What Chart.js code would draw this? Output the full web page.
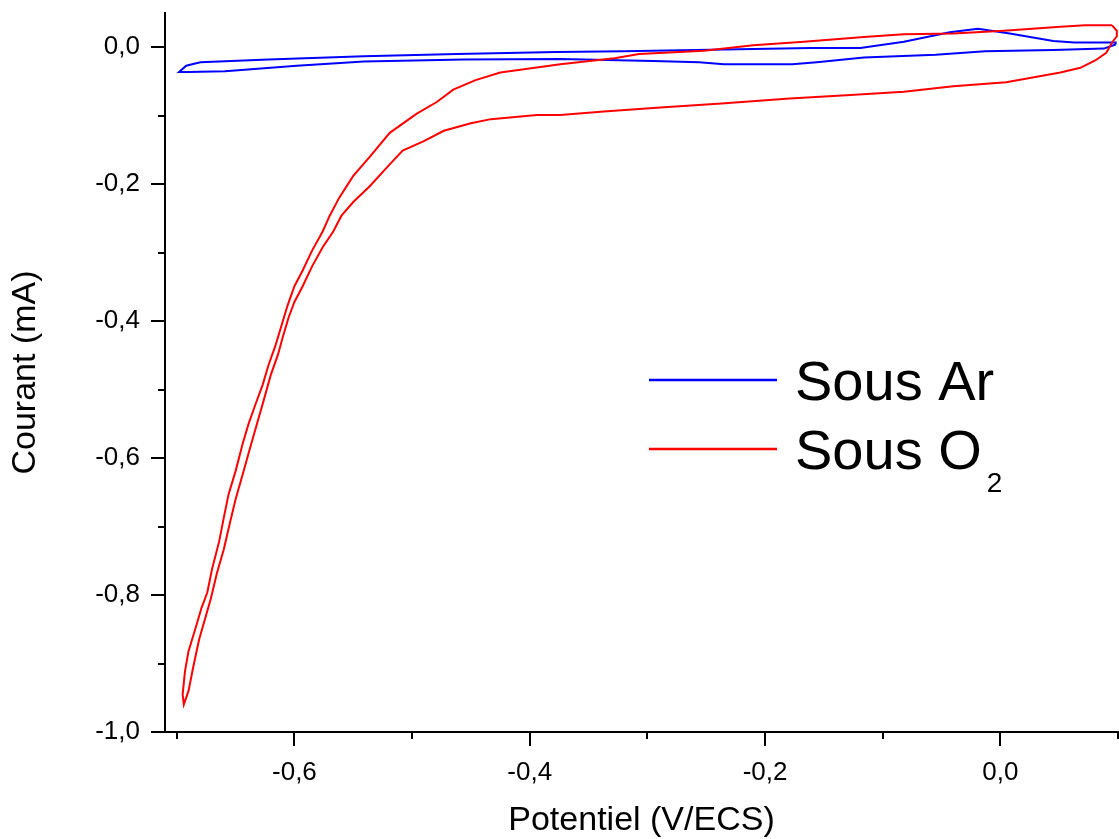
<!DOCTYPE html>
<html>
<head>
<meta charset="utf-8">
<script src="https://cdn.jsdelivr.net/npm/chart.js@4.4.1/dist/chart.umd.min.js"></script>
<style>
  html, body { margin: 0; padding: 0; background: #fff; }
  #wrap { width: 1119px; height: 839px; }
</style>
</head>
<body>
<div id="wrap"><canvas id="cvChart" width="1119" height="839"></canvas></div>
<script>
// Sous Ar : potentiel (V/ECS) et courant (mA), boucle fermee
const arPotential = [0.098, 0.088, 0.045, -0.013, -0.055, -0.116, -0.156, -0.177, -0.235, -0.256, -0.295, -0.374, -0.456, -0.541, -0.598, -0.659, -0.690, -0.698,
  -0.692, -0.680, -0.622, -0.541, -0.462, -0.377, -0.320, -0.161, -0.119, -0.082, -0.043, -0.019, 0.008, 0.045, 0.063, 0.098, 0.098];
const arCurrent = [0.004, -0.002, -0.004, -0.006, -0.011, -0.015, -0.022, -0.025, -0.025, -0.022, -0.020, -0.017, -0.018, -0.021, -0.027, -0.035, -0.036, -0.036,
  -0.027, -0.022, -0.018, -0.013, -0.010, -0.007, -0.006, -0.001, -0.001, 0.008, 0.022, 0.027, 0.020, 0.009, 0.007, 0.007, 0.004];

// Sous O2
const o2Potential = [0.095, 0.072, 0.051, 0.003, -0.040, -0.082, -0.116, -0.167, -0.210, -0.252, -0.307, -0.328, -0.374, -0.425, -0.446, -0.465, -0.479, -0.496,
  -0.519, -0.536, -0.550, -0.562, -0.570, -0.576, -0.585, -0.593, -0.600, -0.606, -0.610, -0.616, -0.622, -0.627, -0.633, -0.639, -0.644, -0.650,
  -0.656, -0.660, -0.664, -0.670, -0.674, -0.679, -0.684, -0.690, -0.693, -0.695, -0.694,
  -0.690, -0.686, -0.681, -0.671, -0.666, -0.660, -0.655, -0.650, -0.644, -0.638, -0.632, -0.626, -0.620, -0.614, -0.610, -0.605, -0.600, -0.593,
  -0.585, -0.576, -0.567, -0.560, -0.550, -0.536, -0.519, -0.508, -0.490, -0.473, -0.450, -0.433, -0.394, -0.374, -0.337, -0.289, -0.237, -0.179,
  -0.131, -0.082, -0.040, 0.005, 0.051, 0.068, 0.081, 0.090, 0.095, 0.099, 0.099, 0.095];
const o2Current = [0.032, 0.032, 0.030, 0.024, 0.020, 0.019, 0.015, 0.008, 0.003, -0.005, -0.010, -0.016, -0.025, -0.037, -0.048, -0.062, -0.080, -0.097,
  -0.125, -0.160, -0.188, -0.220, -0.246, -0.269, -0.297, -0.326, -0.349, -0.378, -0.401, -0.435, -0.464, -0.493, -0.521, -0.550, -0.579, -0.619,
  -0.653, -0.687, -0.722, -0.762, -0.796, -0.819, -0.848, -0.882, -0.911, -0.945, -0.960,
  -0.940, -0.905, -0.865, -0.805, -0.769, -0.733, -0.696, -0.660, -0.624, -0.587, -0.551, -0.515, -0.478, -0.449, -0.424, -0.395, -0.372, -0.349,
  -0.320, -0.292, -0.269, -0.246, -0.226, -0.203, -0.171, -0.151, -0.137, -0.122, -0.111, -0.105, -0.099, -0.099, -0.094, -0.088, -0.082, -0.075,
  -0.070, -0.065, -0.057, -0.051, -0.037, -0.030, -0.019, -0.008, 0.007, 0.016, 0.024, 0.032];

const xMajorTicks = [-0.6, -0.4, -0.2, 0.0];
const xMinorTicks = [-0.7, -0.5, -0.3, -0.1, 0.1];
const yMajorTicks = [0.0, -0.2, -0.4, -0.6, -0.8, -1.0];
const yMinorTicks = [-0.1, -0.3, -0.5, -0.7, -0.9];

const seriesNames = ['Sous Ar', 'Sous O'];
const seriesSubscripts = ['', '2'];
const seriesColors = ['#0000ff', '#ff0000'];

const FONT = '"Liberation Sans", Arial, sans-serif';

function toPoints(xs, ys) {
  return xs.map((x, i) => ({ x: x, y: ys[i] }));
}

function isMajor(v) {
  const r = v / 0.2;
  return Math.abs(r - Math.round(r)) < 1e-6;
}

function fmt(v) {
  return v.toFixed(1).replace('.', ',');
}

// fixed axis box, no extra room for edge labels
function fixBox(size) {
  return s => {
    if (s.isHorizontal()) s.height = size; else s.width = size;
    s.paddingTop = 0; s.paddingBottom = 0; s.paddingLeft = 0; s.paddingRight = 0;
  };
}

// tick marks (major long, minor short) and the legend with subscript
const decor = {
  id: 'decor',
  afterDraw(chart) {
    const { ctx, chartArea } = chart;
    const x = chart.scales.x, y = chart.scales.y;
    ctx.save();
    ctx.strokeStyle = '#000';
    ctx.lineWidth = 2;
    ctx.beginPath();
    xMajorTicks.forEach(v => { const p = Math.round(x.getPixelForValue(v)); ctx.moveTo(p, chartArea.bottom); ctx.lineTo(p, chartArea.bottom + 14); });
    xMinorTicks.forEach(v => { const p = Math.round(x.getPixelForValue(v)); ctx.moveTo(p, chartArea.bottom); ctx.lineTo(p, chartArea.bottom + 7); });
    yMajorTicks.forEach(v => { const p = Math.round(y.getPixelForValue(v)); ctx.moveTo(chartArea.left, p); ctx.lineTo(chartArea.left - 14, p); });
    yMinorTicks.forEach(v => { const p = Math.round(y.getPixelForValue(v)); ctx.moveTo(chartArea.left, p); ctx.lineTo(chartArea.left - 7, p); });
    ctx.stroke();

    // legend
    const rowY = [380, 449];
    seriesNames.forEach((name, i) => {
      ctx.strokeStyle = seriesColors[i];
      ctx.lineWidth = 2.5;
      ctx.beginPath();
      ctx.moveTo(649, rowY[i]);
      ctx.lineTo(777, rowY[i]);
      ctx.stroke();
      ctx.fillStyle = '#000';
      ctx.textBaseline = 'alphabetic';
      ctx.textAlign = 'left';
      ctx.font = '56px ' + FONT;
      ctx.fillText(name, 795, rowY[i] + 20);
      if (seriesSubscripts[i]) {
        const w = ctx.measureText(name).width;
        ctx.font = '28px ' + FONT;
        ctx.fillText(seriesSubscripts[i], 795 + w + 5, rowY[i] + 43);
      }
    });
    ctx.restore();
  }
};

new Chart(document.getElementById('cvChart').getContext('2d'), {
  type: 'scatter',
  data: {
    datasets: [
      {
        label: 'Sous O2',
        data: toPoints(o2Potential, o2Current),
        showLine: true,
        borderColor: seriesColors[1],
        borderWidth: 2,
        pointRadius: 0,
        tension: 0,
        order: 0
      },
      {
        label: 'Sous Ar',
        data: toPoints(arPotential, arCurrent),
        showLine: true,
        borderColor: seriesColors[0],
        borderWidth: 2,
        pointRadius: 0,
        tension: 0,
        order: 1
      }
    ]
  },
  options: {
    responsive: false,
    animation: false,
    layout: { padding: { top: 13, right: 1, left: 0, bottom: 0 } },
    plugins: {
      legend: { display: false },
      tooltip: { enabled: false }
    },
    scales: {
      x: {
        type: 'linear',
        min: -0.71,
        max: 0.1,
        afterFit: fixBox(107),
        afterBuildTicks: s => { s.ticks = xMajorTicks.concat(xMinorTicks).sort((a, b) => a - b).map(v => ({ value: v })); },
        grid: { display: true, drawOnChartArea: false, drawTicks: false },
        border: { display: true, color: '#000', width: 2 },
        ticks: {
          padding: 25,
          color: '#000',
          font: { family: FONT, size: 26 },
          maxRotation: 0,
          autoSkip: false,
          callback: v => isMajor(v) ? fmt(v) : ''
        },
        title: {
          display: true,
          text: 'Potentiel (V/ECS)',
          color: '#000',
          font: { family: FONT, size: 34, lineHeight: 1 },
          padding: { top: 0, bottom: 1 }
        }
      },
      y: {
        type: 'linear',
        min: -1.0,
        max: 0.05,
        afterFit: fixBox(165),
        afterBuildTicks: s => { s.ticks = yMajorTicks.concat(yMinorTicks).sort((a, b) => a - b).map(v => ({ value: v })); },
        grid: { display: true, drawOnChartArea: false, drawTicks: false },
        border: { display: true, color: '#000', width: 2 },
        ticks: {
          padding: 25,
          color: '#000',
          font: { family: FONT, size: 26 },
          autoSkip: false,
          callback: v => isMajor(v) ? fmt(v) : ''
        },
        title: {
          display: true,
          text: 'Courant (mA)',
          color: '#000',
          font: { family: FONT, size: 34, lineHeight: 1 },
          padding: { top: 9, bottom: 0 }
        }
      }
    }
  },
  plugins: [decor]
});
</script>
</body>
</html>
